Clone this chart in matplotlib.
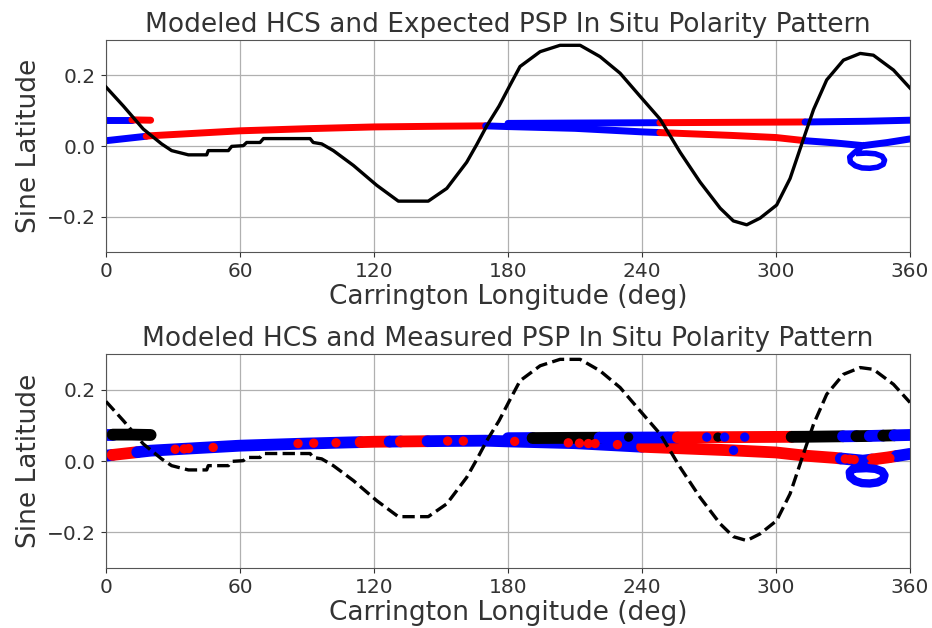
import matplotlib

matplotlib.use("Agg")
import matplotlib.pyplot as plt
import numpy as np

# --------------------------------------------------------------------------- #
# Datos
# --------------------------------------------------------------------------- #
# Lámina de corriente heliosférica (HCS) modelada
hcs_lon = [0, 7.8, 16.7, 24.9, 29.4, 36.9, 45.1, 45.8, 54.8, 56.3, 61.5, 63, 69,
           70.5, 91.4, 92.8, 96.6, 101.8, 110.8, 121.2, 130.9, 144.3, 152.6,
           161.5, 166, 170.5, 176, 180.9, 185.4, 194.4, 203.3, 212.3, 221.2,
           230.2, 239.1, 248.1, 257.1, 266, 275, 280.9, 286.9, 292.9, 300.3,
           306.3, 312.3, 316.8, 322.7, 330.2, 337.7, 343.6, 352.6, 360]
hcs_lat = [0.167, 0.113, 0.048, 0.006, -0.013, -0.025, -0.025, -0.013, -0.013,
           -0.001, 0.001, 0.010, 0.010, 0.021, 0.021, 0.010, 0.006, -0.013,
           -0.055, -0.111, -0.156, -0.156, -0.120, -0.046, 0.004, 0.057, 0.113,
           0.172, 0.225, 0.267, 0.285, 0.285, 0.253, 0.206, 0.141, 0.076,
           -0.018, -0.102, -0.176, -0.212, -0.223, -0.204, -0.167, -0.092,
           0.020, 0.103, 0.187, 0.243, 0.262, 0.257, 0.215, 0.164]

# Trayectoria de PSP: tramo inferior (0 -> 360) y tramo superior (180 -> 360 -> 20)
low_lon = [0, 20, 40, 60, 90, 120, 150, 170, 180, 210, 240, 256, 280, 300, 313,
           326, 339, 350, 360]
low_lat = [0.015, 0.029, 0.036, 0.043, 0.049, 0.054, 0.056, 0.057, 0.055, 0.050,
           0.040, 0.036, 0.030, 0.024, 0.015, 0.009, 0.001, 0.010, 0.020]
up_lon = [180, 210, 248, 280, 313, 340, 360]
up_lat = [0.064, 0.065, 0.066, 0.067, 0.068, 0.070, 0.073]
wrap_lon = [0, 11.6, 20]
wrap_lat = [0.074, 0.074, 0.073]
loop_lon = [339, 335, 333, 333.3, 335.5, 338.5, 342, 345.5, 348, 348.6, 347.5,
            344.5, 340.5, 337]
loop_lat = [0.001, -0.019, -0.031, -0.045, -0.056, -0.062, -0.063, -0.060,
            -0.052, -0.040, -0.029, -0.022, -0.020, -0.021]

# Polaridad esperada (panel superior): tramos [lon_ini, lon_fin, color]
exp_low = [(0, 18, "blue"), (18, 170, "red"), (170, 248, "blue"),
           (248, 313, "red"), (313, 360, "blue")]
exp_up = [(180, 248, "blue"), (248, 313, "red"), (313, 360, "blue")]
exp_wrap = [(0, 11.6, "blue"), (11.6, 20, "red")]

# Polaridad medida (panel inferior)
mea_low = [(0, 3, "blue"), (3, 14, "red"), (14, 114, "blue"), (114, 127, "red"),
           (127, 132, "blue"), (132, 144, "red"), (144, 240, "blue"),
           (240, 329, "red"), (329, 343, "blue"), (343, 354, "red"),
           (354, 360, "blue")]
mea_up = [(180, 191, "blue"), (191, 221, "black"), (221, 256, "blue"),
          (256, 307, "red"), (307, 330, "black"), (330, 336, "blue"),
          (336, 342, "black"), (342, 348, "blue"), (348, 353, "black"),
          (353, 360, "blue")]
mea_wrap = [(0, 3, "blue"), (3, 20, "black")]

# Marcas sueltas de polaridad medida (lon, lat, color)
spk_lon = [31, 35, 37, 48, 86, 93, 103, 153, 160, 183, 207, 212, 216, 219, 229,
           234, 269, 274, 277, 281, 286, 331, 333, 335, 345, 351]
spk_lat = [0.033, 0.034, 0.035, 0.038, 0.049, 0.050, 0.051, 0.056, 0.056, 0.055,
           0.051, 0.050, 0.049, 0.049, 0.046, 0.067, 0.067, 0.067, 0.067, 0.030,
           0.067, 0.006, 0.005, 0.004, 0.003, 0.008]
spk_col = ["red"] * 15 + ["black", "blue", "black", "blue", "blue", "blue",
                          "red", "red", "red", "red", "red"]

TEXT = "#333333"
plt.rcParams.update({
    "font.family": "DejaVu Sans",
    "text.color": TEXT,
    "axes.labelcolor": TEXT,
    "xtick.color": TEXT,
    "ytick.color": TEXT,
    "axes.edgecolor": "#555555",
})


def tramo(lon, lat, a, b):
    """Vértices del tramo de trayectoria entre las longitudes a y b."""
    lon = np.asarray(lon, float)
    lat = np.asarray(lat, float)
    m = (lon > a) & (lon < b)
    xs = np.concatenate([[a], lon[m], [b]])
    return xs, np.interp(xs, lon, lat)


def dibujar_trayectoria(ax, tramos, lw):
    for (lon, lat), segs in tramos:
        for a, b, c in segs:
            xs, ys = tramo(lon, lat, a, b)
            ax.plot(xs, ys, color=c, lw=lw, solid_capstyle="round", zorder=2)


def formato(ax, titulo):
    ax.set_xlim(0, 360)
    ax.set_ylim(-0.3, 0.3)
    ax.set_xticks([0, 60, 120, 180, 240, 300, 360])
    ax.set_yticks([-0.2, 0.0, 0.2])
    ax.grid(True, color="#b0b0b0", lw=0.9)
    ax.set_axisbelow(True)
    ax.tick_params(labelsize=14.5)
    ax.set_title(titulo, fontsize=19)
    ax.set_xlabel("Carrington Longitude (deg)", fontsize=19, labelpad=2)
    ax.set_ylabel("Sine Latitude", fontsize=19)


fig = plt.figure(figsize=(9.32, 6.28), dpi=100)
ax1 = fig.add_axes([0.1137, 0.5987, 0.8627, 0.3376])
ax2 = fig.add_axes([0.1137, 0.0955, 0.8627, 0.3408])

# Panel superior: polaridad esperada
dibujar_trayectoria(ax1, [((low_lon, low_lat), exp_low),
                          ((up_lon, up_lat), exp_up),
                          ((wrap_lon, wrap_lat), exp_wrap)], lw=5)
ax1.plot(loop_lon, loop_lat, color="blue", lw=4, zorder=2)
ax1.plot(hcs_lon, hcs_lat, color="black", lw=2.4, zorder=3)
formato(ax1, "Modeled HCS and Expected PSP In Situ Polarity Pattern")

# Panel inferior: polaridad medida
dibujar_trayectoria(ax2, [((low_lon, low_lat), mea_low),
                          ((up_lon, up_lat), mea_up),
                          ((wrap_lon, wrap_lat), mea_wrap)], lw=8.5)
ax2.plot(loop_lon, loop_lat, color="blue", lw=6, zorder=2)
ax2.scatter(spk_lon, spk_lat, s=45, c=spk_col, linewidths=0, zorder=2.5)
ax2.plot(hcs_lon, hcs_lat, color="black", lw=2.4, ls="--", zorder=3)
formato(ax2, "Modeled HCS and Measured PSP In Situ Polarity Pattern")

fig.savefig("out.png", dpi=100)
